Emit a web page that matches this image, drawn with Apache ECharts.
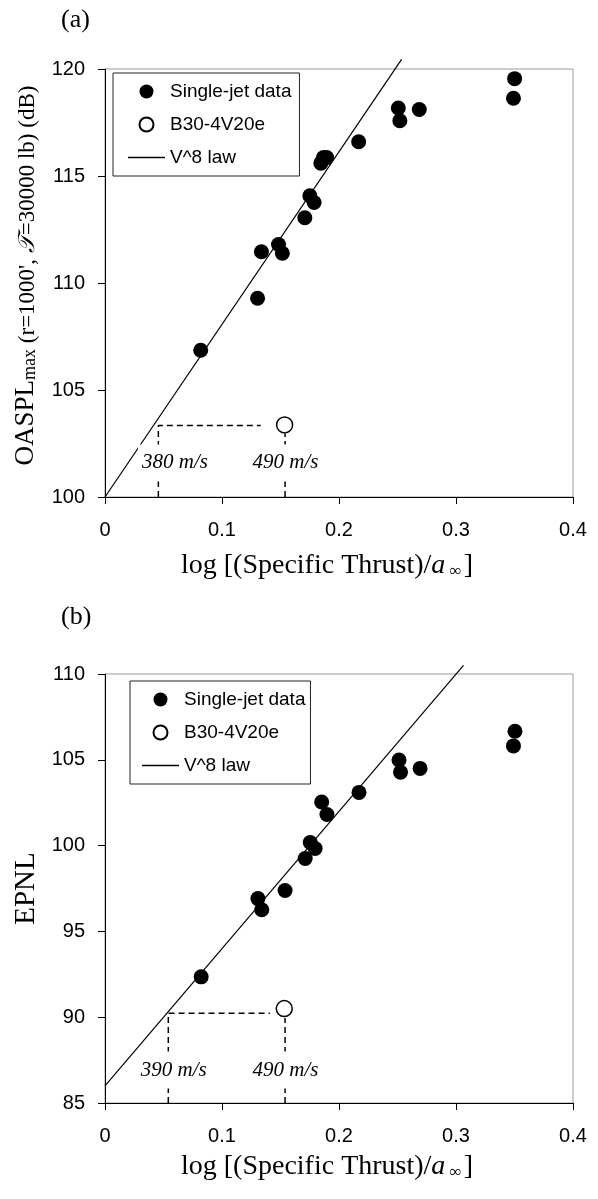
<!DOCTYPE html>
<html>
<head>
<meta charset="utf-8">
<script src="https://cdn.jsdelivr.net/npm/echarts@6/dist/echarts.min.js"></script>
<style>
html,body{margin:0;padding:0;background:#fff;}
#chart{width:598px;height:1199px;}
</style>
</head>
<body>
<div id="chart"></div>
<script>
// ---------- data ----------
const xTicks = [0, 0.1, 0.2, 0.3, 0.4];
const legendNames = ['Single-jet data', 'B30-4V20e', 'V^8 law'];

// Panel (a): OASPL
const aJetX = [0.0818, 0.1304, 0.1337, 0.1483, 0.1516, 0.1708, 0.1751, 0.1787, 0.1845, 0.1868, 0.1894, 0.2168, 0.2507, 0.2520, 0.2686, 0.3501, 0.3491];
const aJetY = [106.86, 109.29, 111.46, 111.80, 111.39, 113.05, 114.08, 113.76, 115.60, 115.86, 115.86, 116.60, 118.18, 117.58, 118.11, 119.55, 118.63];
const aB30X = [0.1535];
const aB30Y = [103.37];
const aLawX = [0, 0.2535];
const aLawY = [100, 120.45];
const aDashX = [0.0456, 0.0456, 0.1331];
const aDashY = [100, 103.34, 103.34];
const aDash2X = [0.1539, 0.1539];
const aDash2Y = [100, 102.95];
const aNoteX = [0.0598, 0.1543];
const aNoteY = [101.59, 101.59];
const aNotes = ['380 m/s', '490 m/s'];

// Panel (b): EPNL
const bJetX = [0.0822, 0.1307, 0.1340, 0.1539, 0.1711, 0.1754, 0.1796, 0.1852, 0.1897, 0.2171, 0.2513, 0.2526, 0.2693, 0.3504, 0.3491];
const bJetY = [92.35, 96.91, 96.26, 97.38, 99.25, 100.18, 99.83, 102.54, 101.81, 103.10, 104.99, 104.28, 104.50, 106.66, 105.81];
const bB30X = [0.1532];
const bB30Y = [90.5];
const bLawX = [0, 0.3064];
const bLawY = [86, 110.5];
const bDashX = [0.0541, 0.0541, 0.1410];
const bDashY = [85, 90.23, 90.23];
const bDash2X = [0.1539, 0.1539];
const bDash2Y = [85, 89.95];
const bNoteX = [0.0587, 0.1543];
const bNoteY = [86.92, 86.92];
const bNotes = ['390 m/s', '490 m/s'];

// ---------- helpers ----------
const zip = (xs, ys) => xs.map((x, i) => [x, ys[i]]);
const SERIF = '"Liberation Serif", "Times New Roman", serif';
const SANS = '"Liberation Sans", Arial, sans-serif';
const LINE_ICON = 'path://M0,0 L37,0 L37,1.3 L0,1.3 Z';

function makeXAxis(gi, nameGap) {
  return {
    gridIndex: gi, type: 'value', min: 0, max: 0.4, interval: 0.1,
    axisLine: {show: true, onZero: false, lineStyle: {color: '#000', width: 1}},
    axisTick: {show: true, inside: false, length: 7, lineStyle: {color: '#000'}},
    axisLabel: {color: '#000', fontFamily: SANS, fontSize: 20, margin: 23,
      formatter: v => String(xTicks.find(t => Math.abs(t - v) < 1e-9) ?? v)},
    splitLine: {show: false},
    name: '{n|log [(Specific Thrust)/}{i|a}{s| ∞}{n|]}',
    nameLocation: 'middle', nameGap: nameGap,
    nameTextStyle: {color: '#000', fontFamily: SERIF, fontSize: 28, padding: [0, 24, 0, 0],
      rich: {
        n: {fontFamily: SERIF, fontSize: 28, color: '#000', verticalAlign: 'bottom'},
        i: {fontFamily: SERIF, fontSize: 28, fontStyle: 'italic', color: '#000', verticalAlign: 'bottom'},
        s: {fontFamily: SERIF, fontSize: 17, color: '#000', verticalAlign: 'bottom', padding: [0, 2, 0, 0]}
      }}
  };
}
function makeYAxis(gi, min, max, name, nameStyle, nameGap) {
  return {
    gridIndex: gi, type: 'value', min: min, max: max, interval: 5,
    axisLine: {show: true, onZero: false, lineStyle: {color: '#000', width: 1}},
    axisTick: {show: true, inside: false, length: 7, lineStyle: {color: '#000'}},
    axisLabel: {color: '#000', fontFamily: SANS, fontSize: 20, margin: 20},
    splitLine: {show: false},
    name: name, nameLocation: 'middle', nameGap: nameGap,
    nameTextStyle: nameStyle
  };
}
function makeLegend(left, top, padding) {
  return {
    data: [
      {name: legendNames[0]},
      {name: legendNames[1]},
      {name: legendNames[2], icon: LINE_ICON, itemStyle: {color: '#000', opacity: 1}}
    ],
    orient: 'vertical', left: left, top: top,
    padding: padding, itemGap: 14, itemWidth: 37, itemHeight: 14,
    borderColor: '#222', borderWidth: 1, backgroundColor: '#fff',
    selectedMode: false,
    textStyle: {color: '#000', fontFamily: SANS, fontSize: 19, lineHeight: 19}
  };
}
function panelSeries(gi, jet, b30, law, dash, dash2, notes) {
  const dashStyle = {color: '#000', width: 1.5, type: [6, 4]};
  return [
    {name: 'V^8 law', type: 'line', xAxisIndex: gi, yAxisIndex: gi, data: law,
      symbol: 'none', clip: false, z: 2, silent: true,
      itemStyle: {color: '#000'},
      lineStyle: {color: '#000', width: 1.2}},
    {name: 'dash1_' + gi, type: 'line', xAxisIndex: gi, yAxisIndex: gi, data: dash,
      symbol: 'none', z: 3, silent: true, lineStyle: dashStyle},
    {name: 'dash2_' + gi, type: 'line', xAxisIndex: gi, yAxisIndex: gi, data: dash2,
      symbol: 'none', z: 3, silent: true, lineStyle: dashStyle},
    {name: 'notes_' + gi, type: 'scatter', xAxisIndex: gi, yAxisIndex: gi, data: notes,
      symbolSize: 1, itemStyle: {color: 'rgba(0,0,0,0)', opacity: 1}, z: 6, silent: true,
      label: {show: true, position: 'inside', formatter: p => p.name, opacity: 1,
        color: '#000', fontFamily: SERIF, fontStyle: 'italic', fontSize: 21, lineHeight: 21,
        backgroundColor: '#fff', padding: [8, 4, 8, 4]}},
    {name: 'Single-jet data', type: 'scatter', xAxisIndex: gi, yAxisIndex: gi, data: jet,
      symbol: 'circle', symbolSize: 15, z: 8, itemStyle: {color: '#000', opacity: 1}},
    {name: 'B30-4V20e', type: 'scatter', xAxisIndex: gi, yAxisIndex: gi, data: b30,
      symbol: 'circle', symbolSize: 16, z: 8,
      itemStyle: {color: '#fff', borderColor: '#000', borderWidth: 1.5, opacity: 1}}
  ];
}
const mkNotes = (xs, ys, names) => xs.map((x, i) => ({value: [x, ys[i]], name: names[i]}));

const yNameA = {
  color: '#000', fontFamily: SERIF, fontSize: 23, padding: [0, 0, 0, 15],
  rich: {
    a: {fontFamily: SERIF, fontSize: 27, color: '#000', verticalAlign: 'bottom'},
    b: {fontFamily: SERIF, fontSize: 18, color: '#000', verticalAlign: 'bottom'},
    c: {fontFamily: SERIF, fontSize: 23, color: '#000', verticalAlign: 'bottom'},
    d: {fontFamily: SERIF, fontSize: 23, fontStyle: 'italic', color: '#000', verticalAlign: 'bottom'}
  }
};
const yNameB = {color: '#000', fontFamily: SERIF, fontSize: 29};

const option = {
  animation: false,
  backgroundColor: '#fff',
  title: [
    {text: '(a)', left: 61, top: 7, padding: 0,
      textStyle: {fontFamily: SERIF, fontWeight: 'normal', fontSize: 26, color: '#000'}},
    {text: '(b)', left: 61, top: 604, padding: 0,
      textStyle: {fontFamily: SERIF, fontWeight: 'normal', fontSize: 26, color: '#000'}}
  ],
  grid: [
    {left: 105, top: 69, width: 468, height: 428, show: true, borderColor: '#9a9a9a', borderWidth: 1},
    {left: 105, top: 674, width: 468, height: 429, show: true, borderColor: '#9a9a9a', borderWidth: 1}
  ],
  legend: [
    makeLegend(113, 73, [9, 8, 9, 15]),
    makeLegend(130, 681, [9, 5, 9, 12])
  ],
  xAxis: [makeXAxis(0, 55), makeXAxis(1, 50)],
  yAxis: [
    makeYAxis(0, 100, 120,
      "{a|OASPL}{b|max}{c| (r=1000', }{d|𝒯}{c|=30000 lb) (dB)}", yNameA, 66),
    makeYAxis(1, 85, 110, 'EPNL', yNameB, 64)
  ],
  series: [].concat(
    panelSeries(0, zip(aJetX, aJetY), zip(aB30X, aB30Y), zip(aLawX, aLawY),
      zip(aDashX, aDashY), zip(aDash2X, aDash2Y), mkNotes(aNoteX, aNoteY, aNotes)),
    panelSeries(1, zip(bJetX, bJetY), zip(bB30X, bB30Y), zip(bLawX, bLawY),
      zip(bDashX, bDashY), zip(bDash2X, bDash2Y), mkNotes(bNoteX, bNoteY, bNotes))
  )
};
const chart = echarts.init(document.getElementById('chart'), null, {renderer: 'canvas'});
chart.setOption(option);
</script>
</body>
</html>
